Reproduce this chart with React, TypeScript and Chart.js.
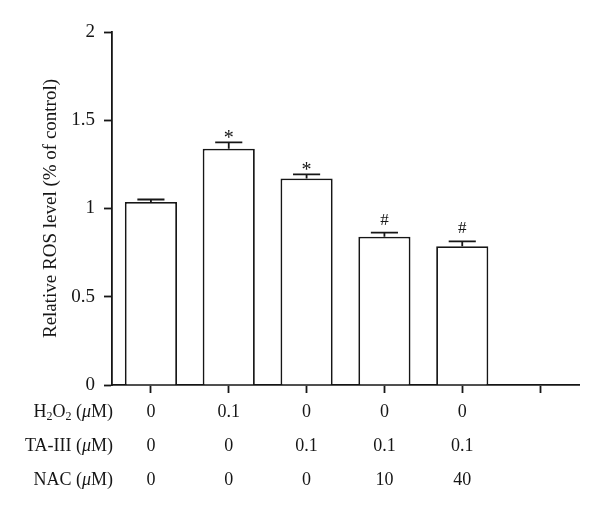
import React, { useEffect, useRef } from "react";
import { Chart, registerables } from "chart.js";

Chart.register(...registerables);

// ---- data ----
const categories = ["A", "B", "C", "D", "E", ""];
const rosValues = [1.037, 1.339, 1.17, 0.84, 0.786, null];
const rosErrors = [0.014, 0.036, 0.023, 0.023, 0.028, null];
const significance = ["", "*", "*", "#", "#", ""];
const h2o2Row = ["0", "0.1", "0", "0", "0"];
const ta3Row = ["0", "0", "0.1", "0.1", "0.1"];
const nacRow = ["0", "0", "0", "10", "40"];
const yTicks = [0, 0.5, 1, 1.5, 2];
const yTickLabels = ["0", "0.5", "1", "1.5", "2"];
const yTitle = "Relative ROS level (% of control)";

type Seg = { t: string; sub?: boolean; it?: boolean };
const rowLabels: Seg[][] = [
  [{ t: "H" }, { t: "2", sub: true }, { t: "O" }, { t: "2", sub: true }, { t: " (" }, { t: "μ", it: true }, { t: "M)" }],
  [{ t: "TA-III (" }, { t: "μ", it: true }, { t: "M)" }],
  [{ t: "NAC (" }, { t: "μ", it: true }, { t: "M)" }],
];
const rowValues = [h2o2Row, ta3Row, nacRow];

const FONT = "'Liberation Serif', 'Times New Roman', serif";
const INK = "#161616";
const LW = 1.8;

const overlayPlugin = {
  id: "overlay",
  afterDatasetsDraw(chart: any) {
    const ctx = chart.ctx;
    const meta = chart.getDatasetMeta(0);
    const ys = chart.scales.y;
    const xs = chart.scales.x;
    ctx.save();
    ctx.strokeStyle = INK;
    ctx.fillStyle = INK;
    ctx.lineWidth = LW;
    // error bars + significance marks
    meta.data.forEach((el: any, i: number) => {
      const v = rosValues[i];
      const e = rosErrors[i];
      if (v == null || e == null) return;
      const top = ys.getPixelForValue(v);
      const cap = ys.getPixelForValue(v + e);
      const half = el.width * 0.26;
      ctx.beginPath();
      ctx.moveTo(el.x, top);
      ctx.lineTo(el.x, cap);
      ctx.moveTo(el.x - half, cap);
      ctx.lineTo(el.x + half, cap);
      ctx.stroke();
      const mark = significance[i];
      if (mark) {
        ctx.textAlign = "center";
        ctx.textBaseline = "alphabetic";
        if (mark === "*") {
          ctx.font = `20px ${FONT}`;
          ctx.fillText(mark, el.x, cap + 2);
        } else {
          ctx.font = `17px ${FONT}`;
          ctx.fillText(mark, el.x, cap - 8);
        }
      }
    });
    // condition table below the axis
    const rowY = [412, 446, 480];
    const labelRight = 113;
    rowValues.forEach((row, r) => {
      ctx.font = `18px ${FONT}`;
      ctx.textAlign = "center";
      ctx.textBaseline = "middle";
      row.forEach((val, c) => {
        ctx.fillText(val, xs.getPixelForValue(c), rowY[r]);
      });
      // row label, right aligned with subscripts / italic mu
      const segs = rowLabels[r];
      const fontFor = (s: Seg) =>
        s.sub ? `12px ${FONT}` : s.it ? `italic 18px ${FONT}` : `18px ${FONT}`;
      let total = 0;
      segs.forEach((s) => {
        ctx.font = fontFor(s);
        total += ctx.measureText(s.t).width;
      });
      let x = labelRight - total;
      ctx.textAlign = "left";
      segs.forEach((s) => {
        ctx.font = fontFor(s);
        ctx.fillText(s.t, x, rowY[r] + (s.sub ? 5 : 0));
        x += ctx.measureText(s.t).width;
      });
    });
    ctx.restore();
  },
};

export default function App() {
  const ref = useRef<HTMLCanvasElement | null>(null);
  useEffect(() => {
    if (!ref.current) return;
    const chart = new Chart(ref.current, {
      type: "bar",
      data: {
        labels: categories,
        datasets: [
          {
            data: rosValues as any,
            backgroundColor: "#ffffff",
            borderColor: INK,
            borderWidth: LW,
            barPercentage: 0.67,
            categoryPercentage: 1,
          },
        ],
      },
      options: {
        responsive: false,
        animation: false,
        events: [],
        layout: { padding: { top: 32, right: 21, left: 0, bottom: 0 } },
        plugins: { legend: { display: false }, tooltip: { enabled: false } },
        scales: {
          x: {
            ticks: { display: false },
            grid: {
              drawOnChartArea: false,
              drawTicks: true,
              tickLength: 8,
              tickWidth: LW,
              tickColor: INK,
              offset: false,
            },
            border: { display: true, color: INK, width: LW },
            afterFit: (s: any) => {
              s.height = 130;
            },
          },
          y: {
            min: 0,
            max: 2,
            afterBuildTicks: (s: any) => {
              s.ticks = yTicks.map((v) => ({ value: v }));
            },
            ticks: {
              callback: (v: any) => yTickLabels[yTicks.indexOf(Number(v))],
              font: { family: FONT, size: 19 },
              color: INK,
              padding: 9,
            },
            grid: {
              drawOnChartArea: false,
              drawTicks: true,
              tickLength: 8,
              tickWidth: LW,
              tickColor: INK,
            },
            border: { display: true, color: INK, width: LW },
            title: {
              display: true,
              text: yTitle,
              font: { family: FONT, size: 19 },
              color: INK,
              padding: { top: 40, bottom: 0 },
            },
            afterFit: (s: any) => {
              s.width = 112;
            },
          },
        },
      },
      plugins: [overlayPlugin],
    });
    return () => chart.destroy();
  }, []);
  return (
    <div style={{ position: "absolute", left: 0, top: 0, width: 600, height: 515, background: "#fff" }}>
      <canvas ref={ref} width={600} height={515} />
    </div>
  );
}
